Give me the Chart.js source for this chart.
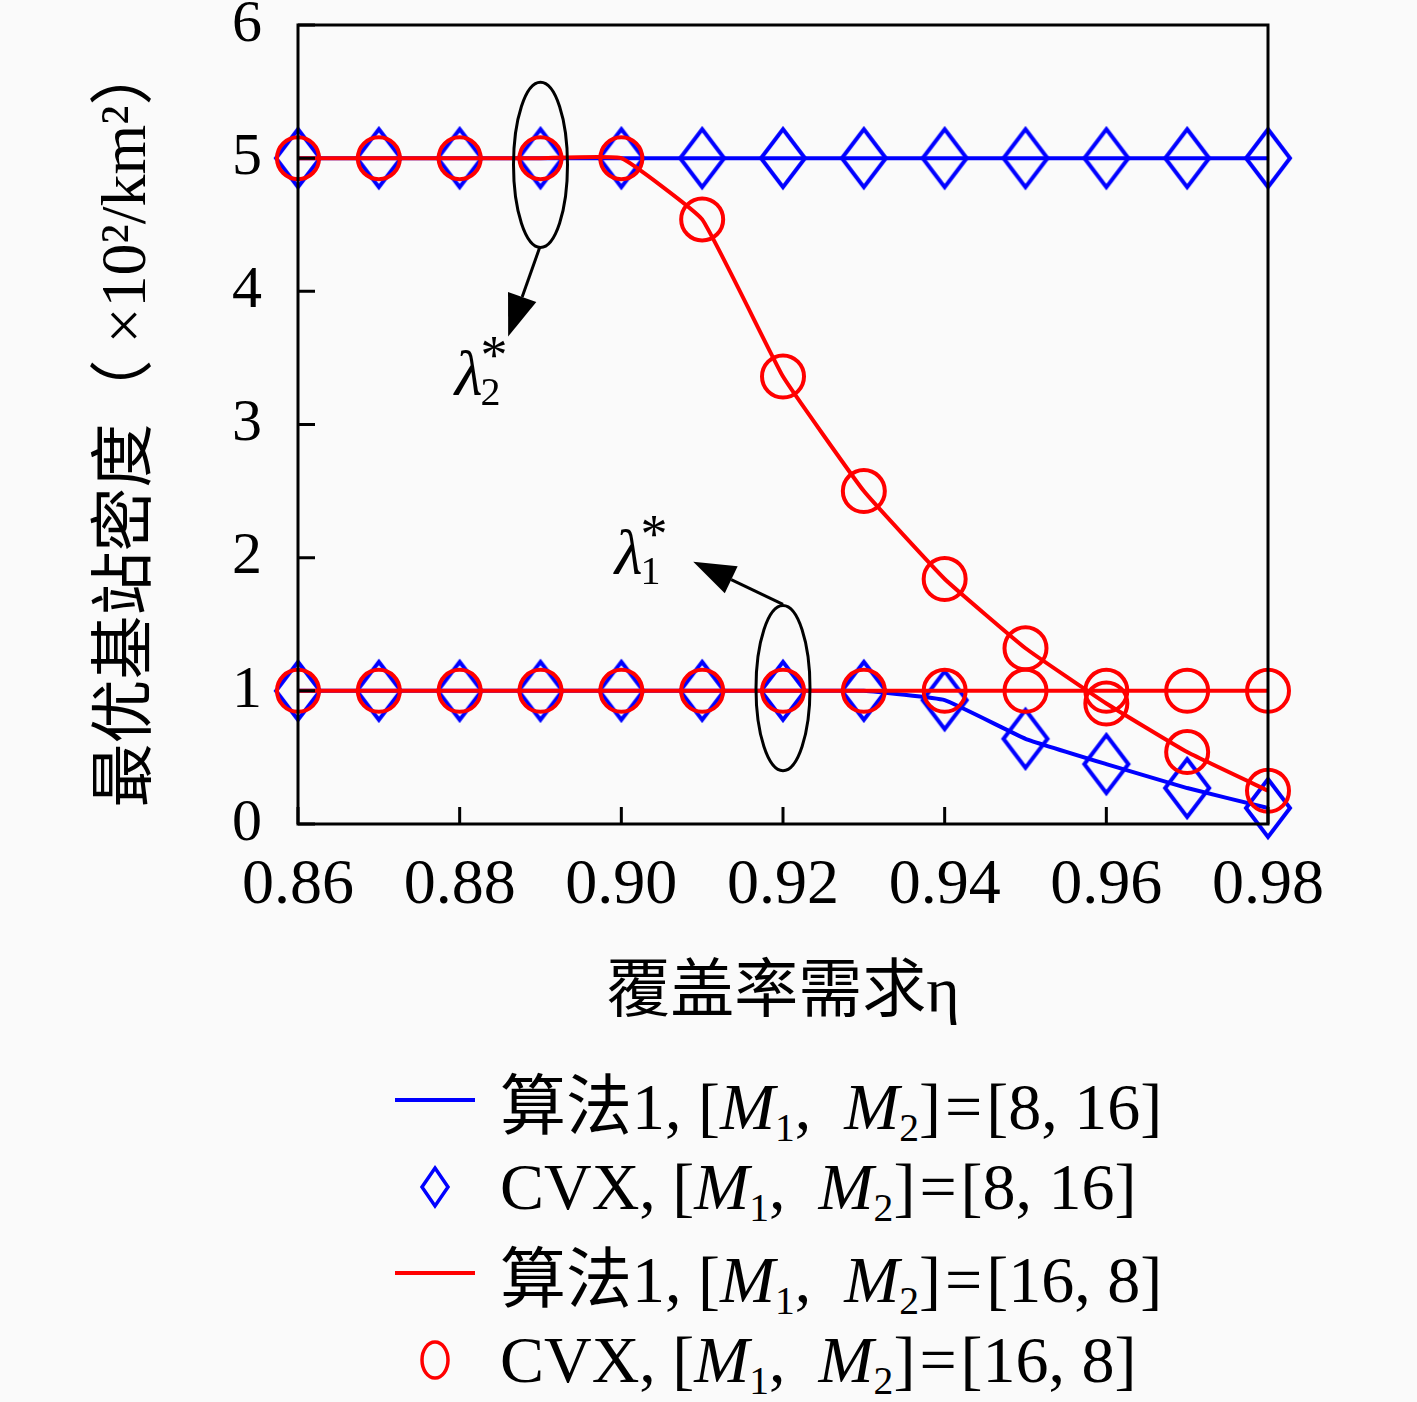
<!DOCTYPE html>
<html>
<head>
<meta charset="utf-8">
<script src="https://cdn.jsdelivr.net/npm/chart.js@4.4.1/dist/chart.umd.min.js"></script>
<style>
    body { margin: 0; background: #fafafa; }
    #wrap { position: relative; width: 1417px; height: 1402px; }
    #box { position: absolute; left: 0; top: 0; width: 1417px; height: 1050px; }
    .row { position: absolute; left: 395px; height: 86px; display: flex; align-items: center;
           font-family: "Liberation Serif", "Noto Sans CJK SC", serif; font-size: 66px; color: #000; white-space: nowrap; }
    .sym { width: 80px; height: 60px; margin-right: 25px; }
    .row sub { font-size: 0.6em; vertical-align: -0.3em; line-height: 0; }
    .row i { font-style: italic; }
    .eq { margin: 0 4px; }
</style>
</head>
<body>
<div id="wrap">
    <div id="box"><canvas id="grafico"></canvas></div>
    <div id="legenda"></div>
</div>
<script>
// coverage requirement on the x axis
var etas = [0.86, 0.87, 0.88, 0.89, 0.90, 0.91, 0.92, 0.93, 0.94, 0.95, 0.96, 0.97, 0.98];
var xTicks = [0.86, 0.88, 0.90, 0.92, 0.94, 0.96, 0.98];

// [M1, M2] = [8, 16]
var lambda1_8_16 = [1, 1, 1, 1, 1, 1, 1, 1, 0.93, 0.64, 0.45, 0.27, 0.12];
var lambda2_8_16 = [5, 5, 5, 5, 5, 5, 5, 5, 5, 5, 5, 5, 5];
// [M1, M2] = [16, 8]
var lambda1_16_8 = [1, 1, 1, 1, 1, 1, 1, 1, 1, 1, 1, 1, 1];
var lambda2_16_8 = [5, 5, 5, 5, 5, 4.54, 3.36, 2.50, 1.84, 1.32, 0.905, 0.54, 0.25];

var legendRows = [
    {tipo: 'line', cor: 'rgb(0, 0, 255)', nome: '算法1', m: '[8, 16]'},
    {tipo: 'diamond', cor: 'rgb(0, 0, 255)', nome: 'CVX', m: '[8, 16]'},
    {tipo: 'line', cor: 'rgb(255, 0, 0)', nome: '算法1', m: '[16, 8]'},
    {tipo: 'circle', cor: 'rgb(255, 0, 0)', nome: 'CVX', m: '[16, 8]'}
];

const AZUL = 'rgb(0, 0, 255)';
const VERMELHO = 'rgb(255, 0, 0)';
const SERIF = '"Liberation Serif", "Noto Sans CJK SC", serif';

function pontos(ys) {
    return etas.map((x, i) => ({x: x, y: ys[i]}));
}

function losango(cor) {
    var c = document.createElement('canvas');
    c.width = 52;
    c.height = 66;
    var g = c.getContext('2d');
    g.strokeStyle = cor;
    g.lineWidth = 4;
    g.beginPath();
    g.moveTo(26, 4);
    g.lineTo(48, 33);
    g.lineTo(26, 62);
    g.lineTo(4, 33);
    g.closePath();
    g.stroke();
    return c;
}

function linha(ys, cor, ordem) {
    return {data: pontos(ys), borderColor: cor, borderWidth: 4, pointRadius: 0,
            tension: 0.1, fill: false, clip: false, order: ordem};
}

function marcas(ys, cor, estilo, ordem) {
    return {data: pontos(ys), showLine: false, borderColor: cor, pointBorderColor: cor,
            pointBackgroundColor: 'rgba(0,0,0,0)', pointStyle: estilo, pointRadius: 21,
            pointBorderWidth: 4, clip: false, order: ordem};
}

// annotations, in data coordinates
var elipses = [
    {x: 0.89, y: 4.95, rx: 0.00334, ry: 0.62},
    {x: 0.92, y: 1.02, rx: 0.00334, ry: 0.62}
];
var setas = [
    {x0: 0.8899, y0: 4.33, x1: 0.8860, y1: 3.66},
    {x0: 0.9200, y0: 1.65, x1: 0.9089, y1: 1.97}
];
var rotulos = [
    {x: 0.8794, y: 3.22, sub: '2'},
    {x: 0.8992, y: 1.88, sub: '1'}
];

var moldura = {
    id: 'moldura',
    afterDatasetsDraw(chart) {
        var ctx = chart.ctx, a = chart.chartArea, sx = chart.scales.x, sy = chart.scales.y;
        ctx.save();
        ctx.strokeStyle = '#000';
        ctx.lineWidth = 3;
        ctx.beginPath();
        xTicks.forEach(v => {
            var px = sx.getPixelForValue(v);
            ctx.moveTo(px, a.bottom); ctx.lineTo(px, a.bottom - 17);
        });
        sy.ticks.forEach(t => {
            var py = sy.getPixelForValue(t.value);
            ctx.moveTo(a.left, py); ctx.lineTo(a.left + 17, py);
        });
        ctx.stroke();
        ctx.strokeRect(a.left, a.top, a.right - a.left, a.bottom - a.top);

        // ellipses and arrows
        ctx.lineWidth = 3;
        elipses.forEach(e => {
            var cx = sx.getPixelForValue(e.x), cy = sy.getPixelForValue(e.y);
            var rx = Math.abs(sx.getPixelForValue(e.x + e.rx) - cx);
            var ry = Math.abs(sy.getPixelForValue(e.y + e.ry) - cy);
            ctx.beginPath();
            ctx.ellipse(cx, cy, rx, ry, 0, 0, Math.PI * 2);
            ctx.stroke();
        });
        ctx.fillStyle = '#000';
        setas.forEach(s => {
            var x0 = sx.getPixelForValue(s.x0), y0 = sy.getPixelForValue(s.y0);
            var x1 = sx.getPixelForValue(s.x1), y1 = sy.getPixelForValue(s.y1);
            var ang = Math.atan2(y1 - y0, x1 - x0);
            var comp = 42, larg = 15;
            var bx = x1 - comp * Math.cos(ang), by = y1 - comp * Math.sin(ang);
            ctx.beginPath();
            ctx.moveTo(x0, y0);
            ctx.lineTo(bx, by);
            ctx.stroke();
            ctx.beginPath();
            ctx.moveTo(x1, y1);
            ctx.lineTo(bx + larg * Math.sin(ang), by - larg * Math.cos(ang));
            ctx.lineTo(bx - larg * Math.sin(ang), by + larg * Math.cos(ang));
            ctx.closePath();
            ctx.fill();
        });
        ctx.textBaseline = 'alphabetic';
        ctx.textAlign = 'left';
        rotulos.forEach(r => {
            var px = sx.getPixelForValue(r.x), py = sy.getPixelForValue(r.y);
            ctx.font = 'italic 64px "Liberation Serif", serif';
            ctx.fillText('λ', px, py);
            var w = ctx.measureText('λ').width;
            ctx.font = '40px "Liberation Serif", serif';
            ctx.fillText(r.sub, px + w - 2, py + 10);
            ctx.font = '54px "Liberation Serif", serif';
            ctx.fillText('*', px + w - 2, py - 22);
        });
        ctx.restore();
    }
};

var ctx = document.getElementById('grafico');
new Chart(ctx, {
    type: 'line',
    data: {
        datasets: [
            linha(lambda1_8_16, AZUL, 8),
            linha(lambda2_8_16, AZUL, 7),
            marcas(lambda1_8_16, AZUL, losango(AZUL), 6),
            marcas(lambda2_8_16, AZUL, losango(AZUL), 5),
            linha(lambda1_16_8, VERMELHO, 4),
            linha(lambda2_16_8, VERMELHO, 3),
            marcas(lambda1_16_8, VERMELHO, 'circle', 2),
            marcas(lambda2_16_8, VERMELHO, 'circle', 1)
        ]
    },
    options: {
        responsive: true,
        maintainAspectRatio: false,
        animation: false,
        events: [],
        layout: {padding: {top: 22, right: 149, bottom: 0, left: 0}},
        plugins: {legend: {display: false}, tooltip: {enabled: false}},
        scales: {
            x: {
                type: 'linear',
                min: 0.86,
                max: 0.98,
                afterBuildTicks: s => { s.ticks = xTicks.map(v => ({value: v})); },
                afterFit: s => { s.height = 1050 - 824; s.paddingLeft = 0; s.paddingRight = 0; },
                grid: {display: false, drawTicks: false},
                border: {display: false},
                ticks: {
                    padding: 30,
                    color: '#000',
                    font: {family: SERIF, size: 64, lineHeight: 1},
                    callback: v => Number(v).toFixed(2)
                },
                title: {
                    display: true,
                    text: '覆盖率需求η',
                    color: '#000',
                    font: {family: SERIF, size: 64, lineHeight: 1.2},
                    padding: {top: 0, bottom: 17}
                }
            },
            y: {
                min: 0,
                max: 6,
                afterFit: s => { s.width = 298; s.paddingTop = 0; s.paddingBottom = 0; },
                grid: {display: false, drawTicks: false},
                border: {display: false},
                ticks: {
                    stepSize: 1,
                    padding: 36,
                    color: '#000',
                    font: {family: SERIF, size: 60, lineHeight: 0.7}
                },
                title: {
                    display: true,
                    text: '最优基站密度（ ×10²/km²）',
                    color: '#000',
                    font: {family: SERIF, size: 64, lineHeight: 1.2},
                    padding: {top: 90, bottom: 0}
                }
            }
        }
    },
    plugins: [moldura]
});

// legend below the chart
var legenda = document.getElementById('legenda');
var centros = [1105, 1192, 1278, 1365];
legendRows.forEach((r, i) => {
    var sym = '';
    if (r.tipo === 'line') {
        sym = `<svg class="sym" viewBox="0 0 80 60"><line x1="0" y1="30" x2="80" y2="30" stroke="${r.cor}" stroke-width="4"/></svg>`;
    } else if (r.tipo === 'diamond') {
        sym = `<svg class="sym" viewBox="0 0 80 60"><polygon points="40,11 53,30 40,49 27,30" fill="none" stroke="${r.cor}" stroke-width="3.5"/></svg>`;
    } else {
        sym = `<svg class="sym" viewBox="0 0 80 60"><ellipse cx="40" cy="30" rx="13" ry="18" fill="none" stroke="${r.cor}" stroke-width="3.5"/></svg>`;
    }
    var div = document.createElement('div');
    div.className = 'row';
    div.style.top = (centros[i] - 48) + 'px';
    div.innerHTML = sym + `<span>${r.nome}, [<i>M</i><sub>1</sub>,&nbsp; <i>M</i><sub>2</sub>]<span class="eq">=</span>${r.m}</span>`;
    legenda.appendChild(div);
});
</script>
</body>
</html>
